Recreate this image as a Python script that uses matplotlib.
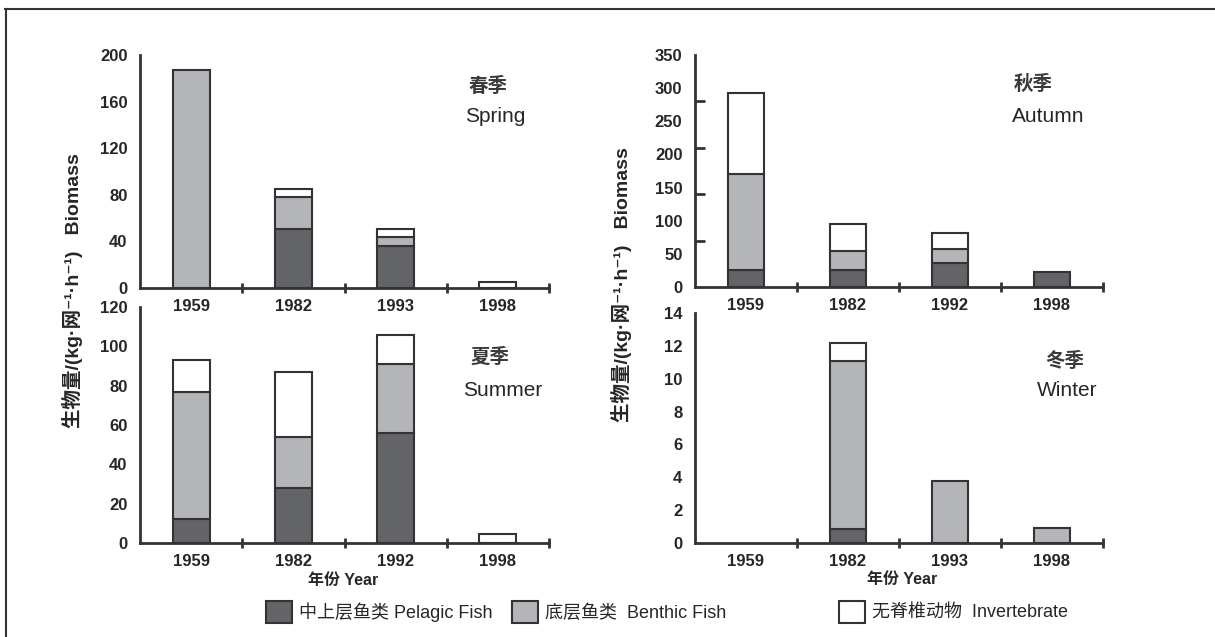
import matplotlib
matplotlib.use("Agg")
import matplotlib.pyplot as plt
from matplotlib import font_manager
from matplotlib.patches import Patch
from matplotlib.lines import Line2D
from matplotlib.ticker import FixedLocator, LinearLocator

installed = {f.name for f in font_manager.fontManager.ttflist}
LATIN = "Liberation Sans" if "Liberation Sans" in installed else "DejaVu Sans"
plt.rcParams["font.family"] = [LATIN, "Noto Sans CJK SC", "DejaVu Sans"]

# ---- data (kg per net per hour) ----
spring_years = ["1959", "1982", "1993", "1998"]
spring_pelagic = [0, 51, 36, 0]
spring_benthic = [187, 27, 8, 0]
spring_invert = [0, 7, 7, 5]

autumn_years = ["1959", "1982", "1992", "1998"]
autumn_pelagic = [26, 26, 36, 23]
autumn_benthic = [144, 28, 21, 0]
autumn_invert = [123, 41, 24, 0]

summer_years = ["1959", "1982", "1992", "1998"]
summer_pelagic = [12, 28, 56, 0]
summer_benthic = [65, 26, 35, 0]
summer_invert = [16, 33, 15, 4.5]

winter_years = ["1959", "1982", "1993", "1998"]
winter_pelagic = [0, 0.85, 0, 0]
winter_benthic = [0, 10.25, 3.8, 0.9]
winter_invert = [0, 1.1, 0, 0]

spring_ticks = [0, 40, 80, 120, 160, 200]
autumn_ticks = [0, 50, 100, 150, 200, 250, 300, 350]
summer_ticks = [0, 20, 40, 60, 80, 100, 120]
winter_ticks = [0, 2, 4, 6, 8, 10, 12, 14]

legend_labels = ["中上层鱼类 Pelagic Fish", "底层鱼类  Benthic Fish", "无脊椎动物  Invertebrate"]

# ---- style ----
W, H = 1215, 637
C_PEL = "#626468"
C_BEN = "#b3b5b8"
C_INV = "#ffffff"
EDGE = "#333333"
TXT = "#262626"


def fx(x):
    return x / W


def fy(y):
    return 1 - y / H


fig = plt.figure(figsize=(W / 100, H / 100), dpi=100)
fig.patch.set_facecolor("white")


def panel(rect_px, years, pel, ben, inv, ticks, ymax, season_cn, season_en,
          cn_xy, en_xy, tick_marks=None):
    l, t, r, b = rect_px
    ax = fig.add_axes([fx(l), fy(b), fx(r - l), (b - t) / H])
    ax.patch.set_visible(False)
    x = list(range(len(years)))
    bw = 0.36
    bottoms2 = [p + q for p, q in zip(pel, ben)]
    ax.bar(x, pel, bw, color=C_PEL, edgecolor=EDGE, linewidth=1.5, zorder=2)
    ax.bar(x, ben, bw, bottom=pel, color=C_BEN, edgecolor=EDGE, linewidth=1.5, zorder=2)
    ax.bar(x, inv, bw, bottom=bottoms2, color=C_INV, edgecolor=EDGE, linewidth=1.5, zorder=2)
    # empty segments carry no outline
    for container in ax.containers:
        for rect in container:
            if rect.get_height() == 0:
                rect.set_visible(False)

    ax.set_xlim(-0.5, len(years) - 0.5)
    ax.set_ylim(0, ymax)
    for s in ("top", "right"):
        ax.spines[s].set_visible(False)
    for s in ("left", "bottom"):
        ax.spines[s].set_color(EDGE)
        ax.spines[s].set_linewidth(2)
        ax.spines[s].set_capstyle("projecting")

    ax.set_xticks(x)
    ax.set_xticklabels(years, fontweight="bold")
    ax.xaxis.set_minor_locator(FixedLocator([i + 0.5 for i in x]))
    ax.tick_params(axis="x", which="major", length=0, pad=8, labelsize=12, labelcolor=TXT)
    ax.tick_params(axis="x", which="minor", direction="inout", length=7, width=2, color=EDGE)

    ax.set_yticks(ticks)
    ax.set_yticklabels([str(v) for v in ticks], fontweight="bold")
    ax.tick_params(axis="y", which="major", length=0, pad=9, labelsize=12, labelcolor=TXT)
    if tick_marks is None:
        ax.yaxis.set_minor_locator(FixedLocator([ymax]))
    else:
        ax.yaxis.set_minor_locator(LinearLocator(tick_marks))
    ax.tick_params(axis="y", which="minor", direction="in", length=7, width=2, color=EDGE)

    fig.text(fx(cn_xy[0]), fy(cn_xy[1]), season_cn, ha="center", va="center",
             fontsize=14, fontweight="bold", color="#3a3a3a")
    fig.text(fx(en_xy[0]), fy(en_xy[1]), season_en, ha="center", va="center",
             fontsize=15, color=TXT)
    return ax


panel((140, 55, 549, 288), spring_years, spring_pelagic, spring_benthic, spring_invert,
      spring_ticks, 200, "春季", "Spring", (488, 86), (495, 117))
panel((695, 55, 1103, 287), autumn_years, autumn_pelagic, autumn_benthic, autumn_invert,
      autumn_ticks, 350, "秋季", "Autumn", (1033, 84), (1048, 117), tick_marks=6)
panel((140, 307, 549, 543), summer_years, summer_pelagic, summer_benthic, summer_invert,
      summer_ticks, 120, "夏季", "Summer", (490, 357), (503, 390))
panel((695, 313, 1103, 543), winter_years, winter_pelagic, winter_benthic, winter_invert,
      winter_ticks, 14, "冬季", "Winter", (1065, 361), (1067, 391))

# shared axis titles
ylab = "生物量/(kg·网⁻¹·h⁻¹)   Biomass"
fig.text(fx(73), fy(291), ylab, rotation=90, ha="center", va="center",
         fontsize=14, fontweight="bold", color=TXT)
fig.text(fx(622), fy(285), ylab, rotation=90, ha="center", va="center",
         fontsize=14, fontweight="bold", color=TXT)
for xc, yc in [(343, 580), (902, 579)]:
    fig.text(fx(xc), fy(yc), "年份 Year", ha="center", va="center",
             fontsize=11.5, fontweight="bold", color=TXT)

# legend entries
colors = [C_PEL, C_BEN, C_INV]
lx = [266, 512, 839]
for lab, col, x0 in zip(legend_labels, colors, lx):
    h = Patch(facecolor=col, edgecolor=EDGE, linewidth=1.5)
    fig.legend([h], [lab], loc="center left", bbox_to_anchor=(fx(x0), fy(612)),
               frameon=False, fontsize=13, handlelength=1.45, handleheight=1.55,
               handletextpad=0.4, borderpad=0, borderaxespad=0,
               labelcolor=TXT)

# page frame
fig.add_artist(Line2D([fx(5), 1.0], [fy(8.5), fy(8.5)], color="#333333", lw=1.5))
fig.add_artist(Line2D([fx(5.5), fx(5.5)], [fy(8.5), 0.0], color="#333333", lw=1.5))

fig.savefig("out.png", dpi=100, facecolor="white")
